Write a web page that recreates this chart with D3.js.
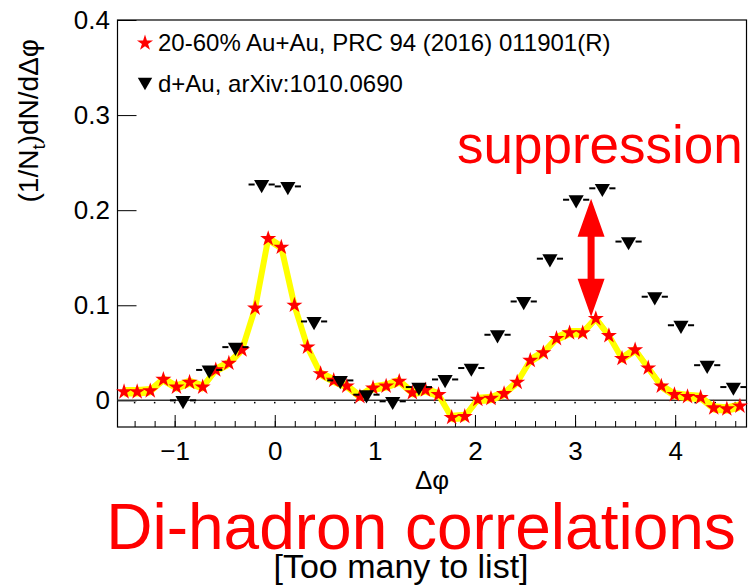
<!DOCTYPE html>
<html>
<head>
<meta charset="utf-8">
<script src="https://cdn.jsdelivr.net/npm/d3@7"></script>
<style>
    body { margin: 0; background: #fff; }
    svg { display: block; font-family: "Liberation Sans", Arial, Helvetica, sans-serif; }
</style>
</head>
<body>
<script>
// 20-60% Au+Au, 48 bins over [-pi/2, 3pi/2]
var auauY = [0.009, 0.009, 0.010, 0.022, 0.014, 0.019, 0.014, 0.032, 0.039, 0.053,
    0.097, 0.170, 0.161, 0.100, 0.056, 0.028, 0.021, 0.015, 0.004, 0.013,
    0.015, 0.020, 0.008, 0.011, 0.006, -0.018, -0.017, 0.001, 0.002, 0.007,
    0.019, 0.042, 0.050, 0.065, 0.071, 0.071, 0.086, 0.068, 0.044, 0.053,
    0.034, 0.015, 0.006, 0.004, 0.003, -0.008, -0.009, -0.006];
var auauSys = 0.005;

// d+Au, 24 bins over the same range (first two not shown)
var dauY = [null, null, 0.000, 0.032, 0.056, 0.227, 0.225, 0.083, 0.021, 0.006,
    -0.001, 0.014, 0.022, 0.034, 0.069, 0.104, 0.149, 0.211, 0.223, 0.167,
    0.109, 0.079, 0.037, 0.014];

var xTicks = [-1, 0, 1, 2, 3, 4],
    xMinorTicks = d3.range(-7, 24).map(function(i) { return i * 0.2; }),
    yTicks = [0, 0.1, 0.2, 0.3, 0.4],
    yTickLabels = ["0", "0.1", "0.2", "0.3", "0.4"];

var legendLabels = ["20-60% Au+Au, PRC 94 (2016) 011901(R)", "d+Au, arXiv:1010.0690"];

// suppression arrow: from d+Au away-side peak down to Au+Au
var arrowX = 3.16, arrowTop = 0.212, arrowBottom = 0.088;

var _width = 749,
    _height = 585,
    _frame = {left: 117.5, right: 746.5, top: 20, bottom: 427},
    _font = 26;

var phiMin = -Math.PI / 2, phiMax = 3 * Math.PI / 2;

var x = d3.scaleLinear().domain([phiMin, phiMax]).range([_frame.left, _frame.right]),
    y = d3.scaleLinear().domain([-0.028, 0.4]).range([_frame.bottom, _frame.top]);

function binCenters(values) {
    var w = (phiMax - phiMin) / values.length;
    return values.map(function(v, i) {
        return {x: phiMin + (i + 0.5) * w, y: v, w: w};
    }).filter(function(d) { return d.y !== null; });
}

var auau = binCenters(auauY),
    dau = binCenters(dauY);

var svg = d3.select("body").append("svg")
    .attr("width", _width)
    .attr("height", _height);

// axes
var xMinor = d3.axisBottom(x).tickValues(xMinorTicks).tickSize(-6).tickFormat("");
svg.append("g")
    .attr("transform", "translate(0," + _frame.bottom + ")")
    .call(xMinor)
    .call(function(g) { g.select(".domain").remove(); });

var xAxis = d3.axisBottom(x)
    .tickValues(xTicks)
    .tickSize(-12)
    .tickPadding(15)
    .tickFormat(function(d) { return d < 0 ? "\u2212" + Math.abs(d) : d; });

svg.append("g")
    .attr("class", "x axis")
    .attr("transform", "translate(0," + _frame.bottom + ")")
    .call(xAxis)
    .call(function(g) {
        g.select(".domain").remove();
        g.selectAll("text").attr("font-size", _font).attr("font-family", null).attr("fill", "#000");
        g.selectAll("line").attr("stroke", "#000");
    });

var yAxis = d3.axisLeft(y)
    .tickValues(yTicks)
    .tickSize(-19)
    .tickPadding(7.5)
    .tickFormat(function(d, i) { return yTickLabels[i]; });

svg.append("g")
    .attr("class", "y axis")
    .attr("transform", "translate(" + _frame.left + ",0)")
    .call(yAxis)
    .call(function(g) {
        g.select(".domain").remove();
        g.selectAll("text").attr("font-size", _font).attr("font-family", null).attr("fill", "#000");
        g.selectAll("line").attr("stroke", "#000");
    });

// frame
svg.append("rect")
    .attr("x", _frame.left)
    .attr("y", _frame.top)
    .attr("width", _frame.right - _frame.left)
    .attr("height", _frame.bottom - _frame.top)
    .attr("fill", "none")
    .attr("stroke", "#000")
    .attr("stroke-width", 1.2);

// zero line with little dots under it
svg.append("line")
    .attr("x1", _frame.left).attr("x2", _frame.right)
    .attr("y1", y(0)).attr("y2", y(0))
    .attr("stroke", "#333")
    .attr("stroke-width", 1.5);

svg.append("g").selectAll("rect")
    .data(xMinorTicks)
    .enter().append("rect")
    .attr("x", function(d) { return x(d) - 0.75; })
    .attr("y", y(0) + 1.5)
    .attr("width", 1.5)
    .attr("height", 1.5)
    .attr("fill", "#000");

// Au+Au systematic band + line
var band = d3.area()
    .x(function(d) { return x(d.x); })
    .y0(function(d) { return y(d.y - auauSys); })
    .y1(function(d) { return y(d.y + auauSys); });

var line = d3.line()
    .x(function(d) { return x(d.x); })
    .y(function(d) { return y(d.y); });

svg.append("path")
    .datum(auau)
    .attr("d", band)
    .attr("fill", "#ffff00");

svg.append("path")
    .datum(auau)
    .attr("d", line)
    .attr("fill", "none")
    .attr("stroke", "#ffff00")
    .attr("stroke-width", 6)
    .attr("stroke-linejoin", "round");

var star = d3.symbol(d3.symbolStar).size(80),
    tri = d3.symbol(d3.symbolTriangle).size(100);

svg.append("g").selectAll("path")
    .data(auau)
    .enter().append("path")
    .attr("d", star)
    .attr("transform", function(d) { return "translate(" + x(d.x) + "," + y(d.y) + ")"; })
    .attr("fill", "#ff0000");

// d+Au with x error bars
var dauG = svg.append("g");
dau.forEach(function(d) {
    var cx = x(d.x), cy = y(d.y), hw = x(d.x + d.w / 2) - cx;
    dauG.append("line")
        .attr("x1", cx - hw).attr("x2", cx - 7)
        .attr("y1", cy).attr("y2", cy)
        .attr("stroke", "#000").attr("stroke-width", 2);
    dauG.append("line")
        .attr("x1", cx + 7).attr("x2", cx + hw)
        .attr("y1", cy).attr("y2", cy)
        .attr("stroke", "#000").attr("stroke-width", 2);
});
dauG.selectAll("path")
    .data(dau)
    .enter().append("path")
    .attr("d", tri)
    .attr("transform", function(d) { return "translate(" + x(d.x) + "," + y(d.y) + ") rotate(180)"; })
    .attr("fill", "#000");

// legend
var legend = svg.append("g").attr("font-size", 24);
legend.append("path")
    .attr("d", d3.symbol(d3.symbolStar).size(80))
    .attr("transform", "translate(145,43)")
    .attr("fill", "#ff0000");
legend.append("path")
    .attr("d", d3.symbol(d3.symbolTriangle).size(90))
    .attr("transform", "translate(145,82) rotate(180)")
    .attr("fill", "#000");
legend.selectAll("text")
    .data(legendLabels)
    .enter().append("text")
    .attr("x", 158)
    .attr("y", function(d, i) { return 51 + i * 40.5; })
    .text(function(d) { return d; });

// axis titles
svg.append("text")
    .attr("x", (_frame.left + _frame.right) / 2)
    .attr("y", 489)
    .attr("text-anchor", "middle")
    .attr("font-size", 26)
    .text("\u0394\u03c6");

var yTitle = svg.append("text")
    .attr("transform", "translate(38,39) rotate(-90)")
    .attr("text-anchor", "end")
    .attr("font-size", 28);
yTitle.append("tspan").text("(1/N");
yTitle.append("tspan").attr("font-size", 19).attr("dy", 7).text("t");
yTitle.append("tspan").attr("dy", -7).text(")dN/d\u0394\u03c6");

// suppression arrow
var ax = x(arrowX), ay1 = y(arrowTop), ay2 = y(arrowBottom),
    headW = 13.5, headL = 38, shaftW = 3.5;
svg.append("path")
    .attr("d", "M" + ax + "," + ay1 +
        "L" + (ax + headW) + "," + (ay1 + headL) +
        "L" + (ax + shaftW) + "," + (ay1 + headL) +
        "L" + (ax + shaftW) + "," + (ay2 - headL) +
        "L" + (ax + headW) + "," + (ay2 - headL) +
        "L" + ax + "," + ay2 +
        "L" + (ax - headW) + "," + (ay2 - headL) +
        "L" + (ax - shaftW) + "," + (ay2 - headL) +
        "L" + (ax - shaftW) + "," + (ay1 + headL) +
        "L" + (ax - headW) + "," + (ay1 + headL) + "Z")
    .attr("fill", "#ff0000");

svg.append("text")
    .attr("x", 457)
    .attr("y", 163)
    .attr("font-size", 53)
    .attr("fill", "#ff0000")
    .text("suppression");

svg.append("text")
    .attr("x", 421)
    .attr("y", 549)
    .attr("text-anchor", "middle")
    .attr("font-size", 64)
    .attr("fill", "#ff0000")
    .text("Di-hadron correlations");

svg.append("text")
    .attr("x", 401)
    .attr("y", 578)
    .attr("text-anchor", "middle")
    .attr("font-size", 34)
    .attr("fill", "#000")
    .text("[Too many to list]");
</script>
</body>
</html>
